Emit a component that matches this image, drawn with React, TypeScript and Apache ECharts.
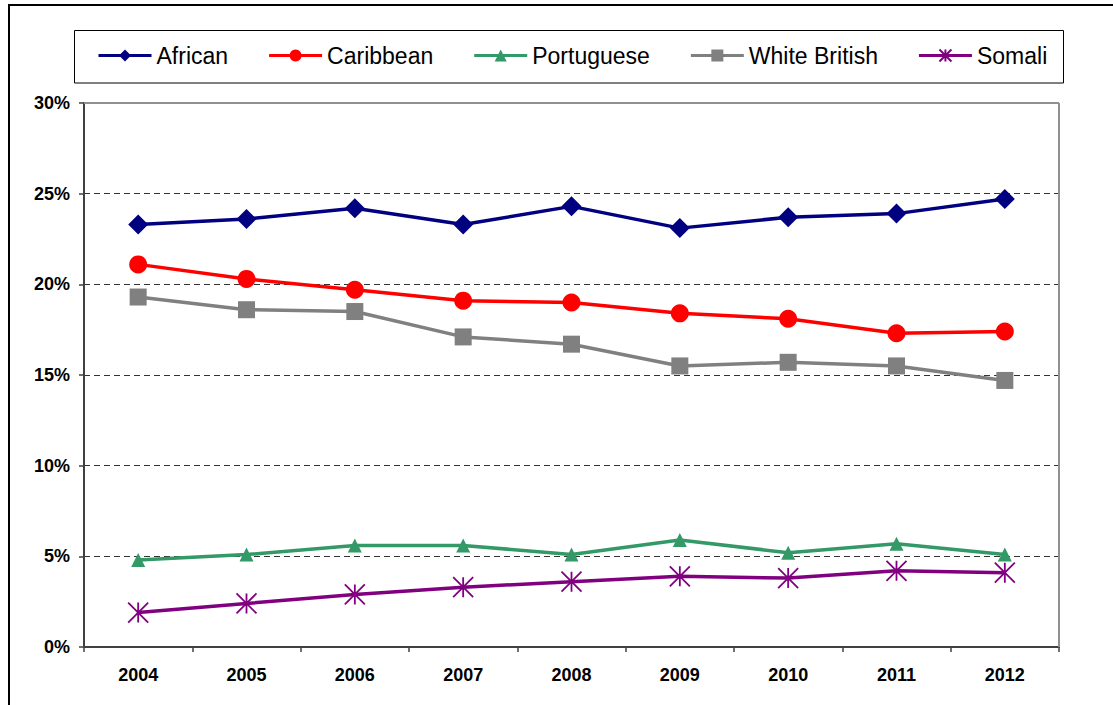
import React, { useEffect, useRef } from "react";
import * as echarts from "echarts";

const years = ["2004", "2005", "2006", "2007", "2008", "2009", "2010", "2011", "2012"];
const african = [23.3, 23.6, 24.2, 23.3, 24.3, 23.1, 23.7, 23.9, 24.7];
const caribbean = [21.1, 20.3, 19.7, 19.1, 19.0, 18.4, 18.1, 17.3, 17.4];
const portuguese = [4.8, 5.1, 5.6, 5.6, 5.1, 5.9, 5.2, 5.7, 5.1];
const whiteBritish = [19.3, 18.6, 18.5, 17.1, 16.7, 15.5, 15.7, 15.5, 14.7];
const somali = [1.9, 2.4, 2.9, 3.3, 3.6, 3.9, 3.8, 4.2, 4.1];

const FONT = "'Liberation Sans', Arial, sans-serif";

export default function App() {
  const ref = useRef<HTMLDivElement>(null);
  useEffect(() => {
    if (!ref.current) return;
    const chart = echarts.init(ref.current, undefined, { renderer: "svg" });
    const mk = (name: string, data: number[], color: string, symbol: string, size: number, extra: any = {}) => ({
      name,
      type: "line",
      data,
      symbol,
      symbolSize: size,
      lineStyle: { color, width: 3.5 },
      itemStyle: { color, ...(extra.itemStyle || {}) },
      emphasis: { disabled: true },
    });
    chart.setOption({
      animation: false,
      backgroundColor: "#ffffff",
      textStyle: { fontFamily: FONT },
      grid: { left: 84, right: 54, top: 103, bottom: 58, containLabel: false },
      legend: {
        left: 97,
        top: 44,
        padding: 0,
        itemWidth: 53,
        itemHeight: 15,
        itemGap: 39.5,
        lineStyle: { width: 3 },
        textStyle: { fontSize: 23, color: "#000", fontFamily: FONT },
        data: ["African", "Caribbean", "Portuguese", "White British", "Somali"],
      },
      xAxis: {
        type: "category",
        data: years,
        boundaryGap: true,
        axisLine: { lineStyle: { color: "#404040", width: 2 } },
        axisTick: { show: true, length: 5, lineStyle: { color: "#404040", width: 1.5 } },
        axisLabel: { fontSize: 18, fontWeight: "bold", color: "#000", margin: 19, fontFamily: FONT },
        splitLine: { show: false },
      },
      yAxis: {
        type: "value",
        min: 0,
        max: 30,
        interval: 5,
        axisLine: { show: true, lineStyle: { color: "#404040", width: 2 } },
        axisTick: { show: true, length: 5, lineStyle: { color: "#404040", width: 1.5 } },
        axisLabel: { formatter: "{value}%", fontSize: 18, fontWeight: "bold", color: "#000", margin: 14, fontFamily: FONT },
        splitLine: { show: true, lineStyle: { color: "#333", type: [6, 4], width: 1 } },
      },
      graphic: [
        { type: "rect", shape: { x: 9, y: 5, width: 1300, height: 900 }, style: { fill: "none", stroke: "#000", lineWidth: 2 }, silent: true, z: 100 },
        { type: "rect", shape: { x: 74.5, y: 30.5, width: 989, height: 52.5 }, style: { fill: "none", stroke: "#000", lineWidth: 1 }, silent: true, z: 100 },
        { type: "line", shape: { x1: 84, y1: 103, x2: 1059, y2: 103 }, style: { stroke: "#909090", lineWidth: 2 }, silent: true, z: 100 },
        { type: "line", shape: { x1: 1059, y1: 103, x2: 1059, y2: 647 }, style: { stroke: "#909090", lineWidth: 2 }, silent: true, z: 100 },
      ],
      series: [
        mk("African", african, "#000080", "diamond", 20),
        mk("Caribbean", caribbean, "#FF0000", "circle", 18),
        mk("Portuguese", portuguese, "#339966", "triangle", 14),
        mk("White British", whiteBritish, "#808080", "rect", 17),
        mk("Somali", somali, "#800080", "path://M0,0L10,10M10,0L0,10M5,0L5,10", 20, {
          itemStyle: { borderColor: "#800080", borderWidth: 1.8 },
        }),
      ],
    });
    return () => chart.dispose();
  }, []);
  return (
    <div
      ref={ref}
      style={{ position: "fixed", left: 0, top: 0, width: 1113, height: 705, background: "#fff" }}
    />
  );
}
